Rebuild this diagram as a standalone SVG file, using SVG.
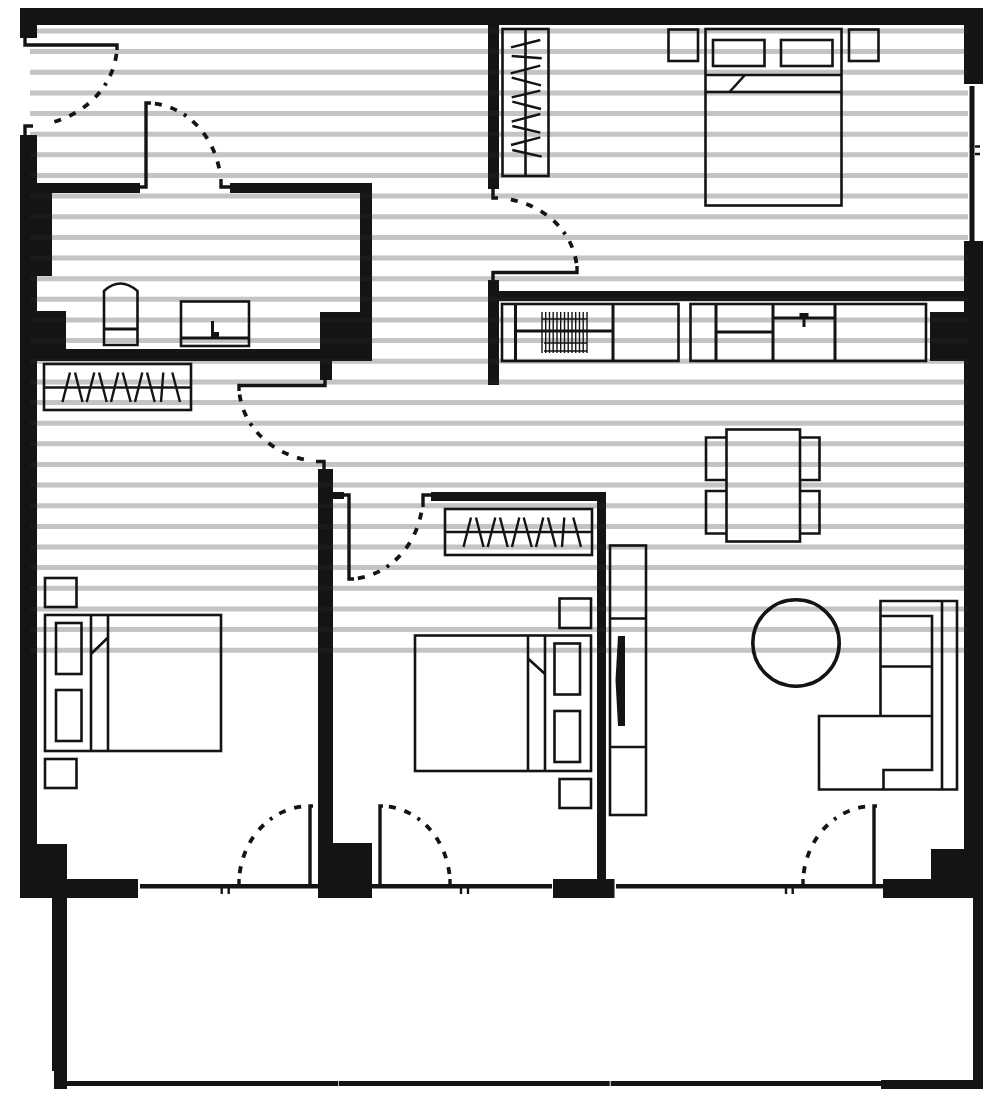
<svg xmlns="http://www.w3.org/2000/svg" width="1000" height="1101" viewBox="0 0 1000 1101">
<defs>
<style>
.stripes{fill:none;stroke:#c3c4c5;stroke-width:5}
.wall{fill:#131416}
.leaf{fill:none;stroke:#131416;stroke-width:3.4}
.swing{fill:none;stroke:#131416;stroke-width:3.8;stroke-dasharray:7 9 7 8 3 8 7 9 7 9 7 9 7 80;stroke-dashoffset:-9}
.f{fill:none;stroke:#131416;stroke-width:2.6}
.t{fill:none;stroke:#131416;stroke-width:1.4}
.tick{fill:none;stroke:#131416;stroke-width:2.4}
.hang{fill:none;stroke:#131416;stroke-width:2.4}
.fill{fill:#131416}
</style>
<path id="rows" d="M37 31H968M30 51.600H968M30 72.300H968M30 92.900H968M30 113.600H968M30 134.200H968M30 154.800H968M30 175.500H968M30 196.100H968M30 216.800H968M30 237.400H968M30 258H968M30 278.700H968M30 299.300H968M30 320H968M30 340.600H968M30 361.200H968M30 381.900H968M30 402.500H968M30 423.200H968M30 443.800H968M30 464.400H968M30 485.100H968M30 505.700H968M30 526.400H968M30 547H968M30 567.600H968M30 588.300H968M30 608.900H968M30 629.600H968M30 650.200H968"/>
</defs>
<rect width="1000" height="1101" fill="#fff"/>
<g id="stripes" class="stripes">
<use href="#rows"/>
</g>
<g id="walls" class="wall">
<rect x="20" y="8" width="963" height="17"/>
<rect x="20" y="25" width="17" height="13"/>
<rect x="20" y="135" width="17" height="763"/>
<rect x="20" y="844" width="47" height="54"/>
<rect x="20" y="879" width="118" height="19"/>
<rect x="20" y="183" width="32" height="93"/>
<rect x="37" y="183" width="103" height="10"/>
<rect x="230" y="183" width="142" height="10"/>
<rect x="360" y="183" width="12" height="178"/>
<rect x="37" y="349" width="335" height="12"/>
<rect x="37" y="311" width="29" height="38"/>
<rect x="320" y="312" width="52" height="49"/>
<rect x="320" y="361" width="12" height="19"/>
<rect x="318" y="469" width="15" height="429"/>
<rect x="318" y="843" width="54" height="55"/>
<rect x="333" y="492" width="11" height="7"/>
<rect x="431" y="492" width="175" height="9"/>
<rect x="597" y="492" width="9" height="388"/>
<rect x="553" y="879" width="61.500" height="19"/>
<rect x="488" y="25" width="11" height="164"/>
<rect x="488" y="280" width="11" height="105"/>
<rect x="488" y="291" width="495" height="10"/>
<rect x="964" y="25" width="19" height="59"/>
<rect x="964" y="241" width="19" height="657"/>
<rect x="930" y="312" width="34" height="49"/>
<rect x="931" y="849" width="52" height="49"/>
<rect x="883" y="879" width="100" height="19"/>
<rect x="973" y="898" width="10" height="191"/>
<rect x="881" y="1080" width="102" height="9"/>
<rect x="52" y="898" width="15" height="173"/>
<rect x="54" y="1071" width="13" height="18"/>
<rect x="67" y="1081" width="271" height="5"/>
<rect x="338.700" y="1081" width="271" height="5"/>
<rect x="610.700" y="1081" width="271" height="5"/>
</g>
<g id="wall-stripe-sheen" class="stripes" opacity="0.035">
<use href="#rows"/>
</g>
<g id="windows">
<rect class="wall" x="969.500" y="86" width="5" height="155"/>
<path class="tick" d="M975 146.500H980M975 154H980"/>
<path d="M140 886.300H318M372 886.300H552M616 886.300H883" fill="none" stroke="#131416" stroke-width="4.600"/>
<path class="tick" d="M221.700 888V894M228.700 888V894M461 888V894M468 888V894M786 888V894M792.700 888V894"/>
</g>
<g id="connectors">
<g id="door-entry">
<path class="leaf" d="M25 38V45H117V50"/>
<path class="leaf" d="M25 135V126H33"/>
<path class="swing" d="M117 45A92 81 0 0 1 25 126"/>
</g>
<g id="door-bath">
<path class="leaf" d="M140 187H146V103H151"/>
<path class="leaf" d="M231 187H221V179"/>
<path class="swing" d="M146 103A75 84 0 0 1 221 187"/>
</g>
<g id="door-bedroom-left">
<path class="leaf" d="M325 380V385.500H239V391"/>
<path class="leaf" d="M324 470V461.500H316"/>
<path class="swing" d="M239 385.500A85 76 0 0 0 324 461.500"/>
</g>
<g id="door-bedroom-mid">
<path class="leaf" d="M344 495H349V579H354"/>
<path class="leaf" d="M431 495H423V507"/>
<path class="swing" d="M349 579A75 84 0 0 0 423 495"/>
</g>
<g id="door-bedroom-master">
<path class="leaf" d="M493 189V198H498"/>
<path class="leaf" d="M493 280V272.500H577V266"/>
<path class="swing" d="M577 272A84 74 0 0 0 493 198"/>
</g>
<g id="door-balcony-1">
<path class="leaf" d="M313 806H310V884"/>
<path class="leaf" d="M239 884V879"/>
<path class="swing" d="M310 806A71 78 0 0 0 239 884"/>
</g>
<g id="door-balcony-2">
<path class="leaf" d="M383 806H380V884"/>
<path class="leaf" d="M450 884V879"/>
<path class="swing" d="M380 806A70 78 0 0 1 450 884"/>
</g>
<g id="door-balcony-3">
<path class="leaf" d="M877 806H874V884"/>
<path class="leaf" d="M803 884V879"/>
<path class="swing" d="M874 806A71 78 0 0 0 803 884"/>
</g>
</g>
<g id="toilet" class="f">
<path d="M104 345V291Q120 276 137.500 291V345Z"/>
<path d="M104 329H137.500" style="stroke-width:3"/>
</g>
<g id="sink">
<rect class="f" x="181" y="301.500" width="68" height="44.500"/>
<path class="f" d="M181 338H249" style="stroke-width:3"/>
<path class="fill" d="M211 321H214V332H219V339H211Z"/>
</g>
<g id="wardrobe-left">
<rect class="f" x="44" y="364" width="147" height="46"/>
<path class="f" d="M44 387.500H191"/>
<path class="hang" d="M62.500 402L70 372.500M75 372.500L82.500 402M86.700 402L94.300 372.500M99 372.500L106.700 402M111 402L118.300 372.500M122.700 372.500L130.700 402M135 402L142.300 372.500M147 372.500L154.700 402M161 402L163.300 372.500M172.300 372.500L180 402"/>
</g>
<g id="wardrobe-mid">
<rect class="f" x="445" y="509" width="147" height="46"/>
<path class="f" d="M445 532H592"/>
<path class="hang" d="M463.500 547L471 517.500M476 517.500L483.500 547M487.700 547L495.300 517.500M500 517.500L507.700 547M512 547L519.300 517.500M523.700 517.500L531.700 547M536 547L543.300 517.500M548 517.500L555.700 547M562 547L564.300 517.500M573.300 517.500L581 547"/>
</g>
<g id="wardrobe-top">
<rect class="f" x="502.500" y="29" width="46" height="147"/>
<path class="f" d="M525.500 29V176"/>
<path class="hang" d="M540.300 40L511 47.300M511.700 56L541.700 58.300M540.300 65.700L510.700 73.300M511.700 77.700L541 85.300M540.300 90.700L511.700 97.300M512.300 101.700L541 109M540.300 114L511.700 121.700M512.300 126L540.300 132.700M540.300 137.300L511 145M512.300 150L541.700 156.700"/>
</g>
<g id="bed-left">
<rect class="f" x="45" y="615" width="176" height="136"/>
<path class="f" d="M91 615V751M108 615V751M91 654L107.500 638"/>
<rect class="f" x="56" y="623" width="25.500" height="51"/>
<rect class="f" x="56" y="690" width="25.500" height="51"/>
<rect class="f" x="45" y="578" width="31.500" height="29"/>
<rect class="f" x="45" y="759" width="31.500" height="29"/>
</g>
<g id="bed-mid">
<rect class="f" x="415" y="635.500" width="176" height="135.500"/>
<path class="f" d="M528 635.500V771M545 635.500V771M528 658.500L545 674"/>
<rect class="f" x="554.500" y="643.500" width="25.500" height="51"/>
<rect class="f" x="554.500" y="711" width="25.500" height="51"/>
<rect class="f" x="559.500" y="598.500" width="31.500" height="29.500"/>
<rect class="f" x="559.500" y="779" width="31.500" height="29"/>
</g>
<g id="bed-master">
<rect class="f" x="705.500" y="29" width="136" height="176.500"/>
<path class="f" d="M705.500 75H841.500M705.500 92H841.500M729.500 92L744.500 75.500"/>
<rect class="f" x="713" y="40" width="51.500" height="26"/>
<rect class="f" x="781" y="40" width="51.500" height="26"/>
<rect class="f" x="668.500" y="29.500" width="29.500" height="31.500"/>
<rect class="f" x="849" y="29.500" width="29.500" height="31.500"/>
</g>
<g id="tv-unit">
<rect class="f" x="610" y="545.500" width="36" height="269.500"/>
<path class="f" d="M610 618.500H646M610 747H646"/>
<path class="fill" d="M618 636H625V726H618L615.500 680Z"/>
</g>
<g id="kitchen-left">
<rect class="f" x="502" y="304" width="176.500" height="57"/>
<path class="f" d="M515.500 304V361M613 304V361M515.500 331H613" style="stroke-width:3"/>
<path class="t" d="M542 312V353M545.700 312V353M549.500 312V353M553.200 312V353M557 312V353M560.700 312V353M564.500 312V353M568.200 312V353M572 312V353M575.700 312V353M579.500 312V353M583.200 312V353M587 312V353"/>
<path class="t" d="M542 319H587M544 343H587M544 351H587"/>
</g>
<g id="kitchen-right">
<rect class="f" x="690.500" y="304" width="235.500" height="57"/>
<path class="f" d="M716 304V361M773 304V361M835 304V361M716 332H773M773 318H835" style="stroke-width:3"/>
<path class="fill" d="M799.500 313H808.500V319H805.500V327H802.500V319H799.500Z"/>
</g>
<g id="dining" class="f">
<rect x="726.500" y="429.500" width="73.500" height="112"/>
<path d="M726.500 437.500H706V480H726.500M726.500 491H706V533.500H726.500M800 437.500H819.500V480H800M800 491H819.500V533.500H800"/>
</g>
<g id="coffee-table">
<circle cx="796" cy="643" r="43.200" fill="none" stroke="#131416" stroke-width="3.600"/>
</g>
<g id="sofa" class="f">
<path d="M880.500 716V601H957V789.500H819V716H932V616H880.500M880.500 666.500H932M932 716V770H883.500V789.500M942 601V789.500"/>
</g>
</svg>
